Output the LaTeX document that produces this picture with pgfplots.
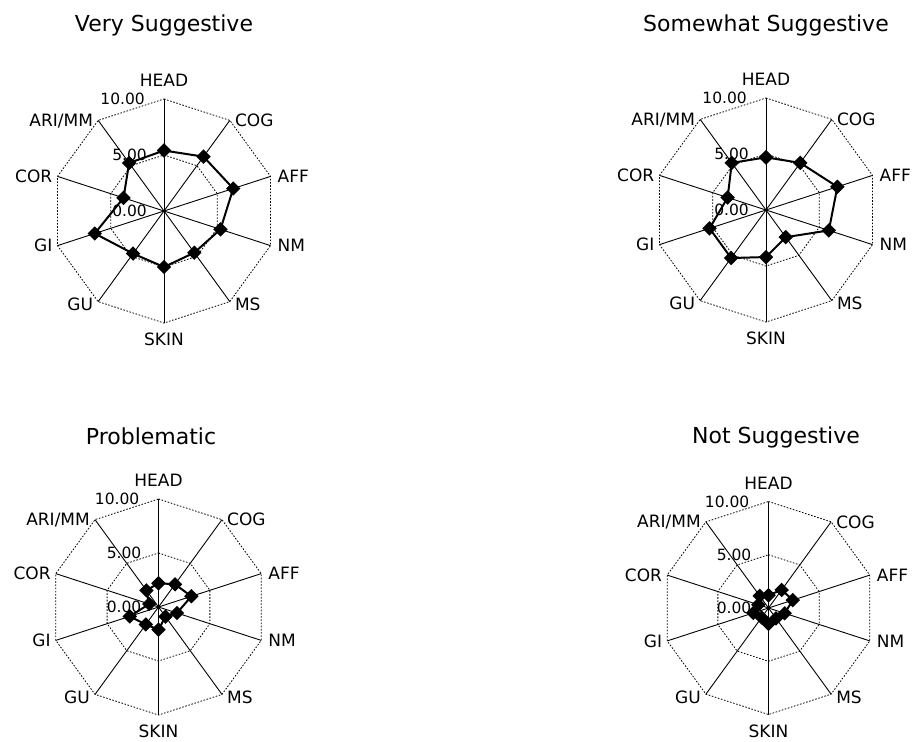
\documentclass[border=0pt]{standalone}
\usepackage{fontspec}
\setmainfont{DejaVu Sans}
\usepackage{pgfplots}
\pgfplotsset{compat=1.18}

\newcommand\labfont{\fontsize{17}{20}\selectfont}
\newcommand\tickfont{\fontsize{15.5}{18}\selectfont}
\newcommand\titfont{\fontsize{22}{26}\selectfont}

\pgfplotsset{
  radar/.style={
    axis lines=none, clip=false, anchor=center,
    xmin=-10, xmax=10, ymin=-10, ymax=10,
    x=#1, y=#1,
  },
  gridline/.style={black, line width=0.8pt, dash pattern=on 1.6pt off 1.6pt, mark=none, data cs=polar},
  spoke/.style={black, line width=0.9pt, mark=none, data cs=polar},
  series/.style={black, line width=2pt, mark=square*, mark size=4.1pt,
     mark options={rotate=45, solid, fill=black}, data cs=polar},
}

\newcommand\radarframe{%
  \addplot[gridline] coordinates {(90,5)(54,5)(18,5)(-18,5)(-54,5)(-90,5)(-126,5)(-162,5)(162,5)(126,5)(90,5)};
  \addplot[gridline] coordinates {(90,10)(54,10)(18,10)(-18,10)(-54,10)(-90,10)(-126,10)(-162,10)(162,10)(126,10)(90,10)};
  \addplot[spoke] coordinates {(90,10)(-90,10)};
  \addplot[spoke] coordinates {(54,10)(-126,10)};
  \addplot[spoke] coordinates {(18,10)(-162,10)};
  \addplot[spoke] coordinates {(-18,10)(162,10)};
  \addplot[spoke] coordinates {(-54,10)(126,10)};
  \node[anchor=south, inner sep=0pt, yshift=12pt, font=\labfont] at (axis cs:0,10) {HEAD};
  \node[anchor=north, inner sep=0pt, yshift=-10pt, font=\labfont] at (axis cs:0,-10) {SKIN};
  \node[anchor=west, inner sep=0pt, xshift=5pt, font=\labfont] at (axis cs:5.878,8.090) {COG};
  \node[anchor=west, inner sep=0pt, xshift=7pt, font=\labfont] at (axis cs:9.511,3.090) {AFF};
  \node[anchor=west, inner sep=0pt, xshift=7pt, font=\labfont] at (axis cs:9.511,-3.090) {NM};
  \node[anchor=west, inner sep=0pt, xshift=5pt, yshift=-3pt, font=\labfont] at (axis cs:5.878,-8.090) {MS};
  \node[anchor=east, inner sep=0pt, xshift=-5pt, yshift=-3pt, font=\labfont] at (axis cs:-5.878,-8.090) {GU};
  \node[anchor=east, inner sep=0pt, xshift=-5pt, font=\labfont] at (axis cs:-9.511,-3.090) {GI};
  \node[anchor=east, inner sep=0pt, xshift=-5pt, font=\labfont] at (axis cs:-9.511,3.090) {COR};
  \node[anchor=base east, inner sep=0pt, xshift=-5pt, yshift=-6pt, font=\labfont] at (axis cs:-5.878,8.090) {ARI/MM};
  \node[anchor=east, inner sep=0pt, xshift=-19pt, font=\tickfont] at (axis cs:0,10) {10.00};
  \node[anchor=east, inner sep=0pt, xshift=-17pt, font=\tickfont] at (axis cs:0,5) {5.00};
  \node[anchor=east, inner sep=0pt, xshift=-17pt, font=\tickfont] at (axis cs:0,0) {0.00};
}

\begin{document}
\begin{tikzpicture}
\useasboundingbox (0,0) rectangle (914pt,-742pt);

% Very Suggestive
\node[anchor=base, inner sep=0pt, font=\titfont] at (164pt,-31pt) {Very Suggestive};
\begin{axis}[radar=11.2pt, at={(164pt,-211pt)}]
\radarframe
\addplot[series] coordinates {
 (90,5.4) (54,6.0) (18,6.5) (-18,5.3) (-54,4.6) (-90,5.0) (-126,4.7) (-162,6.5) (162,3.8) (126,5.3) (90,5.4)};
\end{axis}

% Somewhat Suggestive
\node[anchor=base, inner sep=0pt, font=\titfont] at (766pt,-31.5pt) {Somewhat Suggestive};
\begin{axis}[radar=11.2pt, at={(766pt,-210pt)}]
\radarframe
\addplot[series] coordinates {
 (90,4.7) (54,5.2) (18,6.7) (-18,5.9) (-54,3.0) (-90,4.2) (-126,5.3) (-162,5.3) (162,3.6) (126,5.2) (90,4.7)};
\end{axis}

% Problematic
\node[anchor=base, inner sep=0pt, font=\titfont] at (151pt,-444pt) {Problematic};
\begin{axis}[radar=10.8pt, at={(158.5pt,-607pt)}]
\radarframe
\addplot[series] coordinates {
 (90,2.2) (54,2.6) (18,3.2) (-18,1.8) (-54,1.1) (-90,2.1) (-126,2.0) (-162,2.8) (162,0.9) (126,1.9) (90,2.2)};
\end{axis}

% Not Suggestive
\node[anchor=base, inner sep=0pt, font=\titfont] at (776pt,-443.5pt) {Not Suggestive};
\begin{axis}[radar=10.65pt, at={(768.5pt,-608pt)}]
\radarframe
\addplot[series] coordinates {
 (90,1.2) (54,2.1) (18,2.4) (-18,1.6) (-54,1.2) (-90,1.5) (-126,1.1) (-162,1.5) (162,1.0) (126,1.4) (90,1.2)};
\end{axis}
\end{tikzpicture}
\end{document}
